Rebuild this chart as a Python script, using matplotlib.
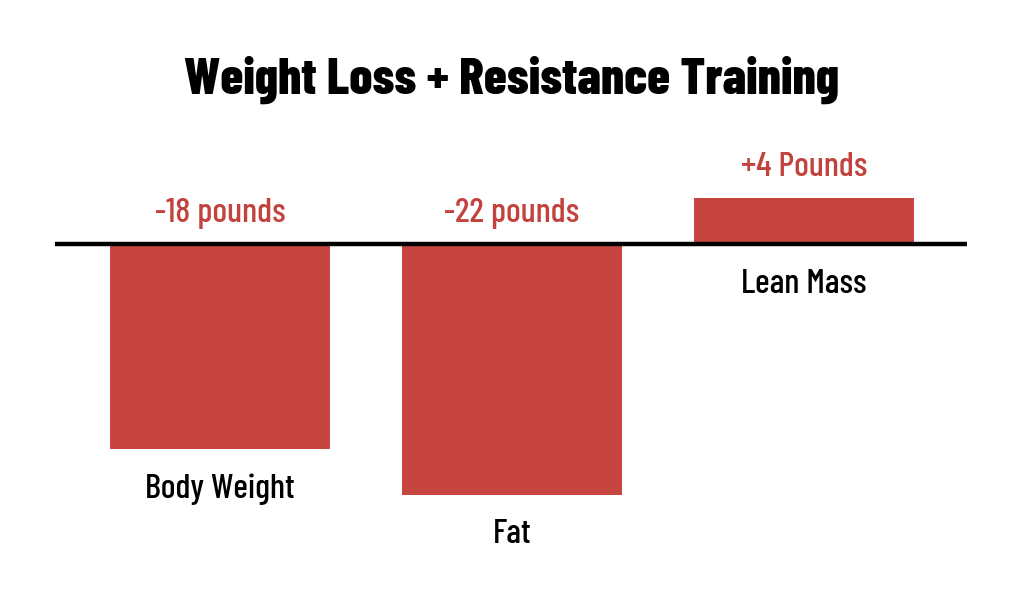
import matplotlib
matplotlib.use("Agg")
import matplotlib.pyplot as plt

categories = ["Body Weight", "Fat", "Lean Mass"]
values = [-18, -22, 4]
value_labels = ["-18 pounds", "-22 pounds", "+4 Pounds"]
title = "Weight Loss + Resistance Training"

bar_color = "#c6453f"
text_red = "#c2433d"
font = ["Barlow Condensed", "DejaVu Sans"]

fig = plt.figure(figsize=(10.24, 6.03), dpi=100)
ax = fig.add_axes([0, 0, 1, 1])
ax.set_xlim(-0.753, 2.753)
ax.set_ylim(-31.5, 21.4)
ax.axis("off")

x = range(len(categories))
ax.bar(x, values, width=0.753, color=bar_color, zorder=2)
ax.hlines(0, -0.565, 2.558, color="black", linewidth=3.2, zorder=3)

for xi, v, lab, cat in zip(x, values, value_labels, categories):
    ax.annotate(lab, (xi, max(v, 0)), xytext=(0, 22), textcoords="offset points",
                ha="center", va="center", color=text_red, fontsize=25,
                family=font, fontweight=500)
    ax.annotate(cat, (xi, min(v, 0)), xytext=(0, -29), textcoords="offset points",
                ha="center", va="center", color="black", fontsize=25,
                family=font, fontweight=500)

fig.text(0.5, 1 - 80 / 603, title, ha="center", va="center", fontsize=37,
         fontweight=800, family=font)

fig.savefig("out.png", dpi=100, facecolor="white")
